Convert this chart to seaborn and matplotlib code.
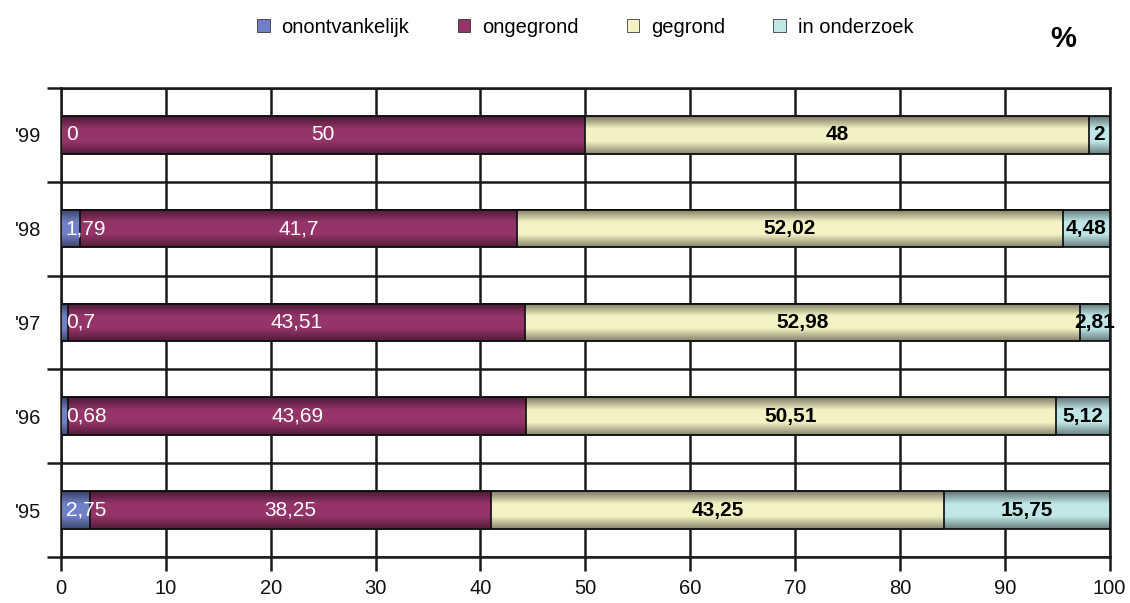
import matplotlib
matplotlib.use("Agg")
import matplotlib.pyplot as plt
from matplotlib.ticker import FixedLocator
from matplotlib.colors import LinearSegmentedColormap
import seaborn as sns
import numpy as np
import pandas as pd

# ---- data ----
years = ["'99", "'98", "'97", "'96", "'95"]
series_names = ["onontvankelijk", "ongegrond", "gegrond", "in onderzoek"]
onontvankelijk = [0, 1.79, 0.7, 0.68, 2.75]
ongegrond = [50, 41.7, 43.51, 43.69, 38.25]
gegrond = [48, 52.02, 52.98, 50.51, 43.25]
in_onderzoek = [2, 4.48, 2.81, 5.12, 15.75]
x_ticks = [0, 10, 20, 30, 40, 50, 60, 70, 80, 90, 100]

colors = ["#7080c6", "#953468", "#f4f1c4", "#c0e6e8"]
text_colors = ["white", "white", "black", "black"]
text_weights = ["normal", "normal", "bold", "bold"]

sns.set_theme(style="white")
plt.rcParams["font.family"] = ["Liberation Sans", "DejaVu Sans"]
plt.rcParams["text.color"] = "black"

df = pd.DataFrame({"year": years,
                   "onontvankelijk": onontvankelijk,
                   "ongegrond": ongegrond,
                   "gegrond": gegrond,
                   "in onderzoek": in_onderzoek})
cum = df[series_names].cumsum(axis=1)

fig = plt.figure(figsize=(11.3, 6.03), dpi=100)
ax = fig.add_axes([0.054, 0.0763, 0.928, 0.778])

LC = "#1a1a1a"
for i in reversed(range(len(series_names))):
    name = series_names[i]
    sns.barplot(x=cum[name], y=df["year"], orient="h", order=years,
                color=colors[i], saturation=1, width=0.4,
                edgecolor=LC, linewidth=1.3, ax=ax, label=name, zorder=3)

h, l = ax.get_legend_handles_labels()
if ax.get_legend() is not None:
    ax.get_legend().remove()

# subtle cylinder shading over each full bar (taken from the bar patches)
shade = LinearSegmentedColormap.from_list(
    "shade", [(0, 0, 0, 0.45), (0, 0, 0, 0.0), (0, 0, 0, 0.0), (0, 0, 0, 0.5)])
grad = np.linspace(0, 1, 64).reshape(-1, 1)
full_bars = ax.patches[:len(years)]
for p in full_bars:
    x0, y0, w, hh = p.get_x(), p.get_y(), p.get_width(), p.get_height()
    ax.imshow(grad, cmap=shade, aspect="auto", interpolation="bilinear",
              extent=(x0, x0 + w, y0, y0 + hh), origin="upper", zorder=4)

# value labels
for i, name in enumerate(series_names):
    vals = df[name].values
    ends = cum[name].values
    for j in range(len(years)):
        txt = f"{vals[j]:g}".replace(".", ",")
        if i == 0:
            ax.text(0.45, j, txt, ha="left", va="center", color=text_colors[i],
                    fontsize=15, fontweight=text_weights[i], zorder=5)
        else:
            ax.text(ends[j] - vals[j] / 2, j, txt, ha="center", va="center",
                    color=text_colors[i], fontsize=15,
                    fontweight=text_weights[i], zorder=5)

ax.set_xlim(0, 100)
ax.set_ylim(len(years) - 0.5, -0.5)
ax.xaxis.set_major_locator(FixedLocator(x_ticks))
ax.set_xticklabels([str(t) for t in x_ticks])
ax.yaxis.set_minor_locator(FixedLocator(np.arange(-0.5, len(years), 1.0)))
ax.set_axisbelow(True)
ax.grid(True, axis="x", which="major", color=LC, linewidth=1.8, zorder=0)
ax.grid(True, axis="y", which="minor", color=LC, linewidth=1.8, zorder=0)
ax.grid(False, axis="y", which="major")
ax.tick_params(axis="x", which="major", direction="out", length=10, width=1.8,
               color=LC, labelsize=14.5, pad=6, bottom=True, labelcolor="#111111")
ax.tick_params(axis="y", which="major", length=0, labelsize=14.5, pad=14,
               labelcolor="#111111")
ax.tick_params(axis="y", which="minor", direction="out", length=10, width=1.8,
               color=LC, left=True)
for s in ax.spines.values():
    s.set_visible(True)
    s.set_color(LC)
    s.set_linewidth(1.8)
ax.set_xlabel("")
ax.set_ylabel("")

order = [l.index(n) for n in series_names]
leg = fig.legend([h[k] for k in order], [l[k] for k in order], loc="center",
                 bbox_to_anchor=(0.518, 0.955), ncol=4, frameon=False,
                 fontsize=14.5, handlelength=0.6, handleheight=0.6,
                 handletextpad=0.6, columnspacing=2.4)
for lh in leg.legend_handles:
    lh.set_linewidth(0.5)

fig.text(0.941, 0.935, "%", fontsize=21, fontweight="bold", ha="center",
         va="center")

fig.savefig("out.png", dpi=100, facecolor="white")
